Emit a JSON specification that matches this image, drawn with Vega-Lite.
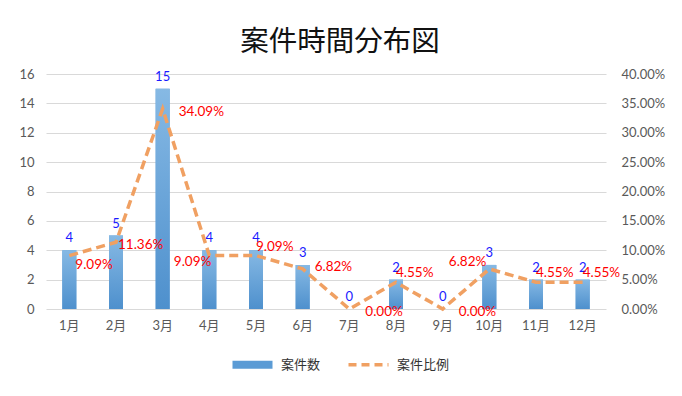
{
  "$schema": "https://vega.github.io/schema/vega-lite/v6.json",
  "width": 560,
  "height": 235,
  "autosize": {"type": "none"},
  "padding": {"left": 46, "top": 74, "right": 76, "bottom": 87},
  "background": "white",
  "config": {
    "view": {"stroke": null},
    "font": "Lato, 'Noto Sans CJK JP'",
    "axis": {"labelFont": "Lato, 'Noto Sans CJK JP'", "labelColor": "#595959", "labelFontSize": 13, "domain": false, "ticks": false, "title": null}
  },
  "title": {
    "text": "案件時間分布図",
    "font": "Noto Sans CJK JP",
    "fontSize": 28.5,
    "fontWeight": "normal",
    "color": "#111111",
    "anchor": "middle",
    "dx": 14,
    "offset": 12
  },
  "data": {
    "values": [
      {"month": "1月", "count": 4, "ratio": 0.0909},
      {"month": "2月", "count": 5, "ratio": 0.1136},
      {"month": "3月", "count": 15, "ratio": 0.3409},
      {"month": "4月", "count": 4, "ratio": 0.0909},
      {"month": "5月", "count": 4, "ratio": 0.0909},
      {"month": "6月", "count": 3, "ratio": 0.0682},
      {"month": "7月", "count": 0, "ratio": 0.0},
      {"month": "8月", "count": 2, "ratio": 0.0455},
      {"month": "9月", "count": 0, "ratio": 0.0},
      {"month": "10月", "count": 3, "ratio": 0.0682},
      {"month": "11月", "count": 2, "ratio": 0.0455},
      {"month": "12月", "count": 2, "ratio": 0.0455}
    ]
  },
  "encoding": {
    "x": {
      "field": "month", "type": "ordinal", "sort": null,
      "scale": {"paddingInner": 0.7, "paddingOuter": 0.35},
      "axis": {"labelAngle": 0, "labelPadding": 10, "grid": false}
    }
  },
  "resolve": {"scale": {"y": "independent"}},
  "layer": [
    {
      "encoding": {
        "y": {"field": "count", "type": "quantitative", "scale": {"domain": [0, 16]},
          "axis": {"orient": "left", "values": [0,2,4,6,8,10,12,14,16], "grid": true, "gridColor": "#d9d9d9", "labelPadding": 12}}
      },
      "layer": [
        {
          "mark": {"type": "bar"},
          "encoding": {
            "color": {"datum": "案件数", "type": "nominal",
              "scale": {"domain": ["案件数", "案件比例"], "range": ["#5b9bd5", "#f0a062"]},
              "legend": {
                "title": null, "orient": "none", "direction": "horizontal",
                "legendX": 200, "legendY": 284,
                "labelFont": "Noto Sans CJK JP", "labelFontSize": 13, "labelColor": "#333333",
                "labelOffset": 22, "columnPadding": 20, "symbolSize": 1600,
                "encode": {
                  "symbols": {
                    "update": {
                      "shape": {"signal": "datum.value == '案件数' ? 'M-1,-0.2H1V0.2H-1Z' : 'M-1,0H1'"},
                      "fill": {"signal": "datum.value == '案件数' ? '#5b9bd5' : 'transparent'"},
                      "stroke": {"signal": "datum.value == '案件数' ? 'transparent' : '#f0a062'"},
                      "strokeWidth": {"signal": "datum.value == '案件数' ? 0 : 3.5"},
                      "strokeDash": {"signal": "datum.value == '案件数' ? [1,0] : [8,5]"},
                      "opacity": {"value": 1}
                    }
                  }
                }
              }}
          }
        },
        {
          "mark": {"type": "bar", "fill": {"gradient": "linear", "x1": 0, "y1": 0, "x2": 0, "y2": 1, "stops": [{"offset": 0, "color": "#86b9e4"}, {"offset": 1, "color": "#4e90cd"}]}}
        },
        {
          "mark": {"type": "text", "baseline": "bottom", "dy": -5, "color": "#1a1aff", "fontSize": 13},
          "encoding": {
            "text": {"field": "count", "type": "quantitative"}
          }
        }
      ]
    },
    {
      "encoding": {
        "y": {"field": "ratio", "type": "quantitative", "scale": {"domain": [0, 0.4]},
          "axis": {"orient": "right", "format": ".2%", "values": [0,0.05,0.1,0.15,0.2,0.25,0.3,0.35,0.4], "grid": false, "labelPadding": 15}}
      },
      "layer": [
        {
          "mark": {"type": "line", "strokeWidth": 3.5, "strokeDash": [9, 5], "color": "#f0a062"},
          "encoding": {"stroke": {"value": "#f0a062"}}
        },
        {
          "transform": [{"filter": "datum.month == '1月'"}],
          "mark": {"type": "text", "align": "left", "baseline": "middle", "dx": 6, "dy": 9, "color": "#ff0000", "fontSize": 13.5},
          "encoding": {"text": {"field": "ratio", "type": "quantitative", "format": ".2%"}}
        },
        {
          "transform": [{"filter": "datum.month == '2月'"}],
          "mark": {"type": "text", "align": "left", "baseline": "middle", "dx": 2, "dy": 3, "color": "#ff0000", "fontSize": 13.5},
          "encoding": {"text": {"field": "ratio", "type": "quantitative", "format": ".2%"}}
        },
        {
          "transform": [{"filter": "datum.month == '3月' || datum.month == '7月' || datum.month == '9月'"}],
          "mark": {"type": "text", "align": "left", "baseline": "middle", "dx": 16, "dy": 3, "color": "#ff0000", "fontSize": 13.5},
          "encoding": {"text": {"field": "ratio", "type": "quantitative", "format": ".2%"}}
        },
        {
          "transform": [{"filter": "datum.month == '4月'"}],
          "mark": {"type": "text", "align": "right", "baseline": "middle", "dx": 2, "dy": 6, "color": "#ff0000", "fontSize": 13.5},
          "encoding": {"text": {"field": "ratio", "type": "quantitative", "format": ".2%"}}
        },
        {
          "transform": [{"filter": "datum.month == '5月' || datum.month == '8月' || datum.month == '11月' || datum.month == '12月'"}],
          "mark": {"type": "text", "align": "left", "baseline": "middle", "dx": 0, "dy": -9, "color": "#ff0000", "fontSize": 13.5},
          "encoding": {"text": {"field": "ratio", "type": "quantitative", "format": ".2%"}}
        },
        {
          "transform": [{"filter": "datum.month == '6月'"}],
          "mark": {"type": "text", "align": "left", "baseline": "middle", "dx": 12, "dy": -2, "color": "#ff0000", "fontSize": 13.5},
          "encoding": {"text": {"field": "ratio", "type": "quantitative", "format": ".2%"}}
        },
        {
          "transform": [{"filter": "datum.month == '10月'"}],
          "mark": {"type": "text", "align": "right", "baseline": "middle", "dx": -3, "dy": -7, "color": "#ff0000", "fontSize": 13.5},
          "encoding": {"text": {"field": "ratio", "type": "quantitative", "format": ".2%"}}
        }
      ]
    }
  ]
}
